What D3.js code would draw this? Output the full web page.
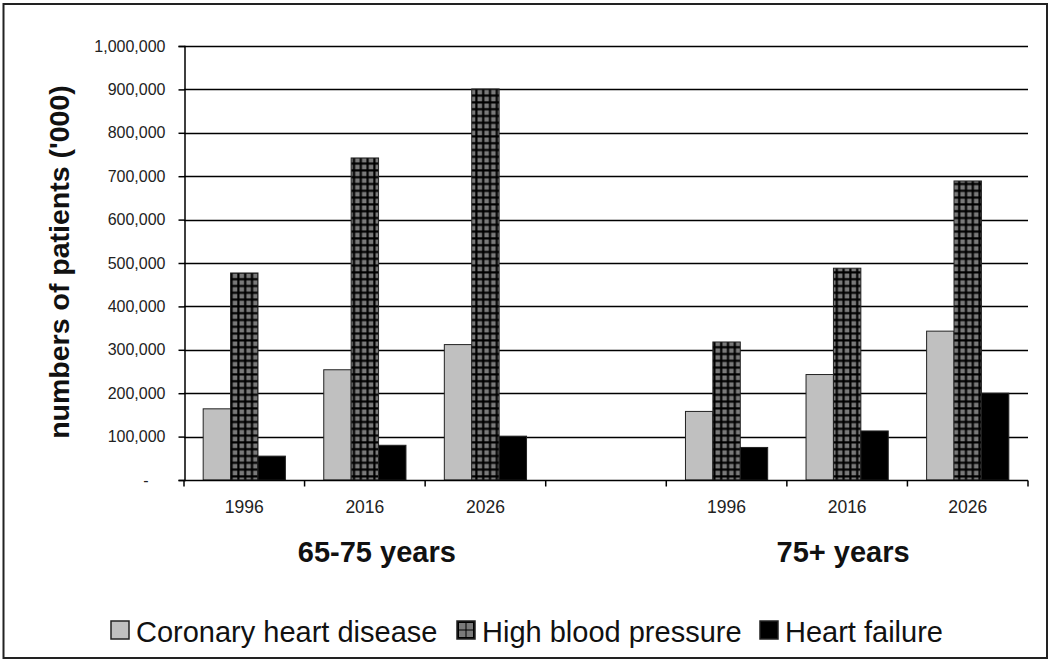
<!DOCTYPE html>
<html><head><meta charset="utf-8">
<script src="https://cdn.jsdelivr.net/npm/d3@7"></script>
<style>body{margin:0;background:#fff}svg{display:block;font-family:Arial,"Liberation Sans",sans-serif}</style>
</head><body><svg id="c" width="1051" height="664"></svg>
<script>
const categories = ["1996","2016","2026","","1996","2016","2026"];
const groupLabels = ["65-75 years","75+ years"];
const seriesNames = ["Coronary heart disease","High blood pressure","Heart failure"];
const coronary = [164000, 254000, 312000, null, 158000, 243000, 343000];
const bloodPressure = [477000, 742000, 901000, null, 318000, 488000, 689000];
const heartFailure = [55000, 80000, 101000, null, 75000, 113000, 200000];
const yTicks = [0,100000,200000,300000,400000,500000,600000,700000,800000,900000,1000000];

(function(){
const svg = d3.select("#c");
const defs = svg.append("defs");
const pat = defs.append("pattern").attr("id","grid").attr("patternUnits","userSpaceOnUse")
  .attr("width",6.8).attr("height",6.8);
pat.append("rect").attr("width",6.8).attr("height",6.8).attr("fill","#000");
pat.append("rect").attr("x",1.5).attr("y",1.5).attr("width",4.6).attr("height",4.6).attr("fill","#7a7a7a");

svg.append("rect").attr("x",3.5).attr("y",4).attr("width",1043.5).attr("height",654)
  .attr("fill","#fff").attr("stroke","#222").attr("stroke-width",2);

const pl=184, pr=1028, pt=46, pb=480;
const x = d3.scaleBand().domain(d3.range(categories.length)).range([pl,pr]);
const y = d3.scaleLinear().domain([0,1000000]).range([pb,pt]);
const inner = d3.scaleBand().domain([0,1,2]).range([0,x.bandwidth()]).paddingInner(0).paddingOuter(0.7);

// gridlines
svg.append("g").selectAll("line").data(yTicks.filter(d=>d>0)).join("line")
  .attr("x1",pl).attr("x2",pr).attr("y1",d=>Math.round(y(d))+0.5).attr("y2",d=>Math.round(y(d))+0.5)
  .attr("stroke","#000").attr("stroke-width",1.5);

// y axis
const fmt = d => d===0 ? "-" : d3.format(",")(d);
const ya = svg.append("g").attr("transform",`translate(${pl+0.5},0)`)
  .call(d3.axisLeft(y).tickValues(yTicks).tickFormat(fmt).tickSize(6).tickPadding(13));
ya.select(".domain").attr("stroke","#000").attr("stroke-width",1.5);
ya.selectAll(".tick line").attr("stroke","#000").attr("stroke-width",1.5);
ya.selectAll("text").attr("font-size",16).attr("fill","#222").attr("font-family","Arial,'Liberation Sans',sans-serif")
  .attr("dx",d=>d===0?-17:0);

// bars
const series = [coronary, bloodPressure, heartFailure];
const fills = ["#c0c0c0","url(#grid)","#000"];
series.forEach((vals,si)=>{
  svg.append("g").selectAll("rect").data(vals.map((v,i)=>({v,i})).filter(d=>d.v!=null)).join("rect")
    .attr("x",d=>x(d.i)+inner(si)).attr("width",inner.bandwidth())
    .attr("y",d=>y(d.v)).attr("height",d=>pb-y(d.v))
    .attr("fill",fills[si]).attr("stroke","#222").attr("stroke-width",1);
});

// x axis
const xa = svg.append("g").attr("transform",`translate(0,${pb+0.5})`);
xa.append("line").attr("x1",pl).attr("x2",pr).attr("stroke","#000").attr("stroke-width",1.5);
xa.selectAll("line.t").data(d3.range(categories.length+1)).join("line").attr("class","t")
  .attr("x1",i=>i<categories.length?x(i):pr).attr("x2",i=>i<categories.length?x(i):pr)
  .attr("y1",0).attr("y2",6).attr("stroke","#000").attr("stroke-width",1.5);
xa.selectAll("text").data(categories).join("text")
  .attr("x",(d,i)=>x(i)+x.bandwidth()/2).attr("y",32).attr("text-anchor","middle")
  .attr("font-size",17.5).attr("fill","#222").text(d=>d);

// group labels
const gpos = [x(1)+x.bandwidth()/2, x(5)+x.bandwidth()/2];
svg.append("g").selectAll("text").data(groupLabels).join("text")
  .attr("x",(d,i)=>gpos[i]+(i===0?12:-4)).attr("y",562).attr("text-anchor","middle")
  .attr("font-size",29).attr("font-weight","bold").attr("fill","#111").text(d=>d);

// y title
svg.append("text").attr("transform","translate(69,262) rotate(-90)").attr("text-anchor","middle")
  .attr("font-size",28.5).attr("font-weight","bold").attr("fill","#111").text("numbers of patients ('000)");

// legend
const legX = [111, 457, 760];
const lg = svg.append("g");
seriesNames.forEach((n,i)=>{
  lg.append("rect").attr("x",legX[i]).attr("y",621).attr("width",18).attr("height",18)
    .attr("fill",i===1?"#000":fills[i]).attr("stroke","#222").attr("stroke-width",1.5);
  if(i===1){
    [[2,2],[9.5,2],[2,9.5],[9.5,9.5]].forEach(([dx,dy])=>{
      lg.append("rect").attr("x",legX[i]+dx).attr("y",621+dy).attr("width",6.5).attr("height",6.5).attr("fill","#7a7a7a");
    });
  }
  lg.append("text").attr("x",legX[i]+25).attr("y",642).attr("font-size",29).attr("fill","#111").text(n);
});
})();
</script></body></html>
